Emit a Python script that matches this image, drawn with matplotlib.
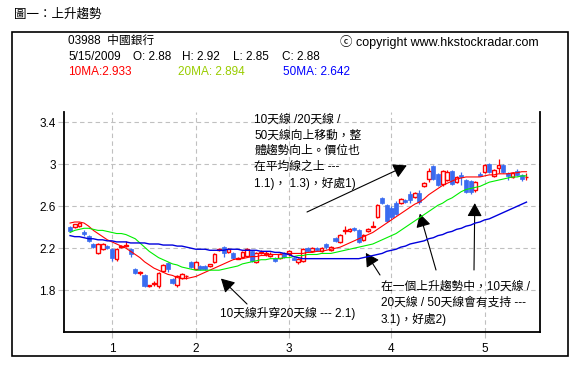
import matplotlib
matplotlib.use('Agg')
import matplotlib.pyplot as plt
import numpy as np
from matplotlib.patches import Rectangle

plt.rcParams['font.family'] = ['Liberation Sans', 'Noto Sans CJK TC', 'DejaVu Sans']

# daily OHLC, 03988, mid Dec 2008 .. 15 May 2009
opens = [2.40, 2.40, 2.41, 2.35, 2.32, 2.24, 2.15, 2.19, 2.22, 2.19,
         2.10, 2.21, 2.22, 2.19, 2.00, 1.96, 1.94, 1.84, 1.86, 1.84,
         1.98, 2.06, 1.91, 1.85, 1.92, 1.93, 2.07, 2.00, 2.03, 2.03,
         2.03, 2.07, 2.18, 2.21, 2.16, 2.15, 2.10, 2.12, 2.13, 2.17,
         2.07, 2.15, 2.14, 2.13, 2.11, 2.11, 2.15, 2.14, 2.11, 2.07,
         2.08, 2.20, 2.17, 2.20, 2.17, 2.24, 2.18, 2.30, 2.26, 2.36,
         2.36, 2.39, 2.37, 2.28, 2.36, 2.40, 2.50, 2.68, 2.61, 2.58,
         2.63, 2.63, 2.66, 2.72, 2.69, 2.73, 2.79, 2.86, 2.98, 2.91,
         2.81, 2.85, 2.94, 2.83, 2.90, 2.85, 2.84, 2.76, 2.91, 2.93,
         3.00, 2.89, 2.97, 2.99, 2.92, 2.88, 2.94, 2.90, 2.88]
highs = [2.41, 2.43, 2.45, 2.37, 2.33, 2.25, 2.25, 2.25, 2.23, 2.20,
         2.20, 2.23, 2.27, 2.20, 2.01, 1.98, 1.95, 1.85, 1.89, 1.97,
         2.05, 2.07, 1.92, 1.94, 1.96, 1.94, 2.08, 2.08, 2.04, 2.04,
         2.05, 2.15, 2.20, 2.22, 2.20, 2.16, 2.12, 2.17, 2.20, 2.18,
         2.16, 2.18, 2.17, 2.16, 2.12, 2.15, 2.16, 2.18, 2.12, 2.11,
         2.20, 2.21, 2.21, 2.21, 2.21, 2.25, 2.22, 2.31, 2.34, 2.41,
         2.39, 2.40, 2.38, 2.34, 2.39, 2.46, 2.62, 2.69, 2.62, 2.60,
         2.65, 2.68, 2.67, 2.75, 2.74, 2.76, 2.83, 2.97, 2.99, 2.92,
         2.95, 2.95, 2.95, 2.89, 2.93, 2.86, 2.85, 2.84, 2.93, 3.00,
         3.01, 2.96, 3.05, 3.00, 2.93, 2.93, 2.96, 2.91, 2.92]
lows = [2.35, 2.39, 2.40, 2.32, 2.26, 2.20, 2.14, 2.18, 2.19, 2.08,
        2.08, 2.20, 2.21, 2.12, 1.95, 1.94, 1.83, 1.83, 1.84, 1.82,
        1.97, 1.97, 1.86, 1.83, 1.91, 1.91, 2.01, 1.99, 1.99, 1.99,
        2.02, 2.06, 2.17, 2.12, 2.15, 2.10, 2.10, 2.11, 2.12, 2.07,
        2.06, 2.14, 2.13, 2.12, 2.07, 2.10, 2.11, 2.13, 2.09, 2.05,
        2.07, 2.16, 2.16, 2.17, 2.16, 2.19, 2.17, 2.26, 2.25, 2.34,
        2.35, 2.36, 2.25, 2.27, 2.35, 2.40, 2.49, 2.62, 2.45, 2.48,
        2.52, 2.62, 2.63, 2.63, 2.68, 2.62, 2.78, 2.83, 2.85, 2.79,
        2.79, 2.84, 2.80, 2.82, 2.80, 2.73, 2.72, 2.74, 2.89, 2.92,
        2.92, 2.88, 2.92, 2.92, 2.85, 2.87, 2.89, 2.84, 2.85]
closes = [2.36, 2.43, 2.44, 2.34, 2.27, 2.21, 2.24, 2.24, 2.20, 2.11,
          2.19, 2.22, 2.23, 2.14, 1.96, 1.97, 1.84, 1.85, 1.87, 1.96,
          2.04, 2.00, 1.87, 1.93, 1.95, 1.93, 2.02, 2.07, 2.00, 2.00,
          2.05, 2.14, 2.19, 2.15, 2.19, 2.11, 2.11, 2.16, 2.19, 2.08,
          2.15, 2.16, 2.15, 2.14, 2.08, 2.14, 2.12, 2.17, 2.09, 2.10,
          2.19, 2.17, 2.20, 2.18, 2.20, 2.21, 2.21, 2.27, 2.33, 2.37,
          2.38, 2.37, 2.26, 2.33, 2.38, 2.41, 2.61, 2.63, 2.46, 2.50,
          2.53, 2.67, 2.64, 2.66, 2.73, 2.64, 2.82, 2.94, 2.86, 2.80,
          2.94, 2.93, 2.81, 2.88, 2.88, 2.74, 2.74, 2.83, 2.89, 2.99,
          2.93, 2.95, 2.99, 2.93, 2.89, 2.92, 2.90, 2.86, 2.88]

ma10 = [2.44, 2.45, 2.45, 2.44, 2.41, 2.37, 2.34, 2.31, 2.28, 2.26,
        2.24, 2.22, 2.20, 2.17, 2.14, 2.11, 2.07, 2.04, 2.01, 1.99,
        1.97, 1.95, 1.94, 1.92, 1.91, 1.91, 1.92, 1.93, 1.95, 1.97,
        1.99, 2.01, 2.03, 2.05, 2.07, 2.09, 2.10, 2.10, 2.11, 2.12,
        2.12, 2.13, 2.13, 2.14, 2.14, 2.14, 2.15, 2.15, 2.15, 2.15,
        2.15, 2.16, 2.16, 2.17, 2.17, 2.18, 2.19, 2.20, 2.21, 2.23,
        2.25, 2.27, 2.29, 2.31, 2.33, 2.35, 2.38, 2.41, 2.44, 2.47,
        2.50, 2.53, 2.56, 2.59, 2.62, 2.64, 2.67, 2.71, 2.74, 2.77,
        2.80, 2.82, 2.84, 2.86, 2.87, 2.88, 2.88, 2.88, 2.88, 2.89,
        2.90, 2.90, 2.91, 2.91, 2.91, 2.92, 2.92, 2.93, 2.93]
ma20 = [2.35, 2.37, 2.38, 2.39, 2.39, 2.38, 2.37, 2.37, 2.36, 2.35,
        2.34, 2.34, 2.33, 2.31, 2.29, 2.25, 2.21, 2.17, 2.14, 2.11,
        2.09, 2.07, 2.05, 2.04, 2.02, 2.01, 2.00, 1.99, 1.99, 1.99,
        1.99, 1.99, 1.99, 2.00, 2.01, 2.02, 2.03, 2.05, 2.06, 2.07,
        2.08, 2.09, 2.09, 2.10, 2.10, 2.10, 2.11, 2.11, 2.12, 2.13,
        2.13, 2.14, 2.14, 2.14, 2.15, 2.15, 2.15, 2.16, 2.17, 2.18,
        2.19, 2.20, 2.21, 2.22, 2.23, 2.24, 2.26, 2.28, 2.30, 2.32,
        2.34, 2.37, 2.40, 2.43, 2.46, 2.49, 2.52, 2.55, 2.58, 2.61,
        2.63, 2.66, 2.68, 2.71, 2.74, 2.76, 2.77, 2.78, 2.79, 2.81,
        2.83, 2.84, 2.85, 2.86, 2.87, 2.88, 2.88, 2.89, 2.89]
ma50 = [2.32, 2.31, 2.31, 2.30, 2.29, 2.29, 2.28, 2.28, 2.27, 2.27,
        2.26, 2.26, 2.26, 2.25, 2.25, 2.25, 2.25, 2.24, 2.24, 2.24,
        2.23, 2.23, 2.23, 2.22, 2.22, 2.21, 2.20, 2.19, 2.19, 2.19,
        2.18, 2.18, 2.18, 2.18, 2.19, 2.19, 2.19, 2.18, 2.18, 2.18,
        2.18, 2.17, 2.17, 2.17, 2.16, 2.16, 2.15, 2.14, 2.12, 2.11,
        2.10, 2.10, 2.10, 2.10, 2.10, 2.10, 2.10, 2.10, 2.10, 2.10,
        2.10, 2.10, 2.10, 2.11, 2.12, 2.13, 2.14, 2.15, 2.17, 2.18,
        2.19, 2.21, 2.22, 2.24, 2.25, 2.26, 2.27, 2.29, 2.30, 2.32,
        2.33, 2.35, 2.36, 2.38, 2.39, 2.41, 2.42, 2.44, 2.45, 2.47,
        2.48, 2.50, 2.52, 2.54, 2.56, 2.58, 2.60, 2.62, 2.64]

month_pos = [9, 27, 47, 69, 89]
month_labels = ['1', '2', '3', '4', '5']
y_ticks = [1.8, 2.2, 2.6, 3.0, 3.4]
y_labels = ['1.8', '2.2', '2.6', '3', '3.4']

W, H = 582, 372
UP = '#ff0000'
DOWN = '#3a6cf0'


def fp(x, y):
    # pixel position measured from top-left -> figure fraction
    return x / W, 1 - y / H


fig = plt.figure(figsize=(W / 100, H / 100), dpi=100)
fig.patches.append(Rectangle(fp(12, 356), 556 / W, 324 / H, transform=fig.transFigure,
                             fill=False, edgecolor='black', linewidth=1.2))

ax = fig.add_axes([64 / W, 1 - 332 / H, 476 / W, 220 / H])
x = np.arange(len(closes))
o = np.array(opens)
c = np.array(closes)
up = c >= o

ax.vlines(x[up], np.array(lows)[up], np.array(highs)[up], color=UP, linewidth=0.9, zorder=2)
ax.vlines(x[~up], np.array(lows)[~up], np.array(highs)[~up], color=DOWN, linewidth=0.9, zorder=2)
ax.bar(x[up], (c - o)[up], bottom=o[up], width=0.8, facecolor='white', edgecolor=UP,
       linewidth=1.0, zorder=3)
ax.bar(x[~up], (o - c)[~up], bottom=c[~up], width=0.9, facecolor=DOWN, edgecolor=DOWN,
       linewidth=0.5, zorder=3)

ax.plot(x, ma10, color='#ff0000', linewidth=0.8, zorder=4)
ax.plot(x, ma20, color='#00ee00', linewidth=0.8, zorder=4)
ax.plot(x, ma50, color='#0000dd', linewidth=1.0, zorder=4)

ax.set_xlim(-1.3, 100.9)
ax.set_ylim(1.4, 3.5)
ax.set_xticks(month_pos)
ax.set_xticklabels(month_labels)
ax.set_yticks(y_ticks)
ax.set_yticklabels(y_labels)
ax.grid(True, color='#c0c0c0', linestyle=(0, (4, 3)), linewidth=0.8)
ax.set_axisbelow(True)
ax.tick_params(axis='both', length=4, color='#c0c0c0', labelsize=8.5)
ax.tick_params(axis='y', pad=2)
ax.tick_params(axis='x', pad=4)
ax.spines['top'].set_visible(False)
for side in ['left', 'right', 'bottom']:
    ax.spines[side].set_linewidth(1.3)

# header
fig.text(*fp(14, 15), '圖一：上升趨勢', fontsize=9, va='center')
fig.text(*fp(68, 41), '03988  中國銀行', fontsize=8.5, va='center')
for lx, s in [(68, '5/15/2009'), (133, 'O: 2.88'), (182, 'H: 2.92'), (233, 'L: 2.85'), (282, 'C: 2.88')]:
    fig.text(*fp(lx, 57), s, fontsize=8.5, va='center')
fig.text(*fp(68, 72), '10MA:2.933', fontsize=8.5, va='center', color='#ff0000')
fig.text(*fp(178, 72), '20MA: 2.894', fontsize=8.5, va='center', color='#99cc00')
fig.text(*fp(283, 72), '50MA: 2.642', fontsize=8.5, va='center', color='#0000ff')
fig.text(*fp(340, 42), 'ⓒ copyright www.hkstockradar.com', fontsize=9, va='center')

# notes
fig.text(*fp(254, 114), '10天線 /20天線 /\n50天線向上移動，整\n體趨勢向上。價位也\n在平均線之上 ---\n1.1)， 1.3)，好處1)',
         fontsize=8.5, va='top', linespacing=1.4)
fig.text(*fp(220, 313), '10天線升穿20天線 --- 2.1)', fontsize=8.5, va='center')
fig.text(*fp(381, 281), '在一個上升趨勢中，10天線 /\n20天線 / 50天線會有支持 ---\n3.1)，好處2)',
         fontsize=8.5, va='top', linespacing=1.4)

arrow = dict(arrowstyle='-|>,head_length=0.45,head_width=0.25', mutation_scale=18,
             linewidth=0.8, color='black', shrinkA=0, shrinkB=0)
arrows = [((72.3, 2.99), (307, 212)),
          ((32.4, 1.91), (247, 304)),
          ((63.5, 2.155), (380, 275)),
          ((75.1, 2.53), (436, 270)),
          ((86.9, 2.63), (474, 270))]
for tip, tail in arrows:
    ax.annotate('', xy=tip, xycoords='data', xytext=fp(*tail), textcoords='figure fraction',
                arrowprops=arrow, annotation_clip=False)

fig.savefig('out.png', dpi=100)
